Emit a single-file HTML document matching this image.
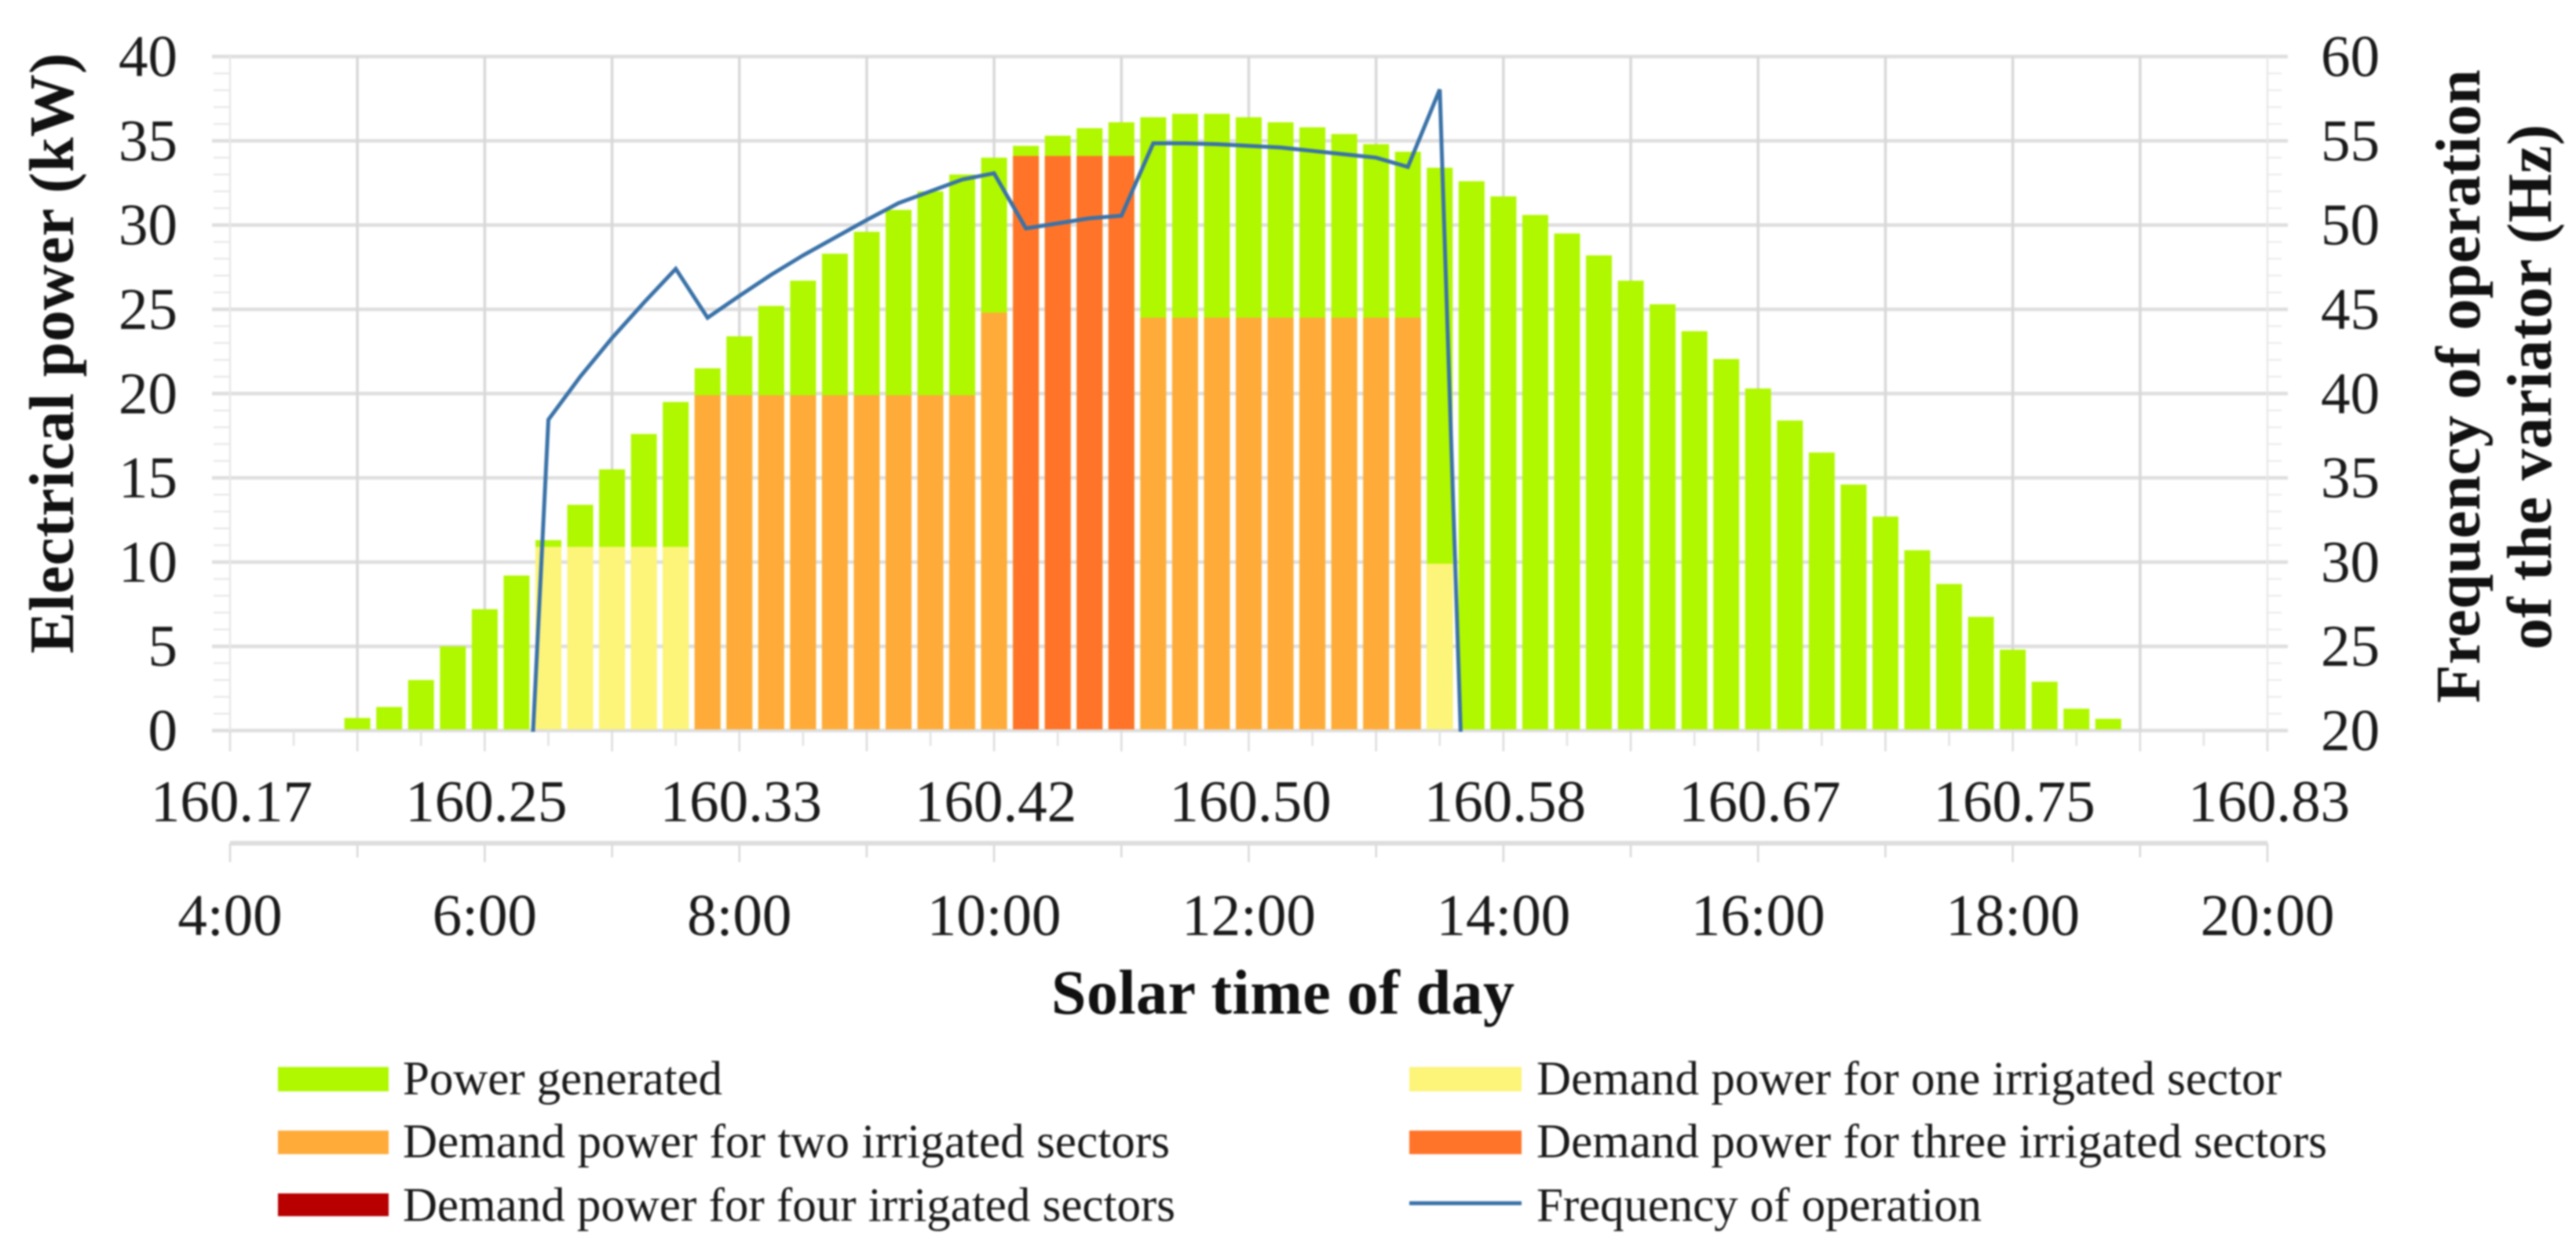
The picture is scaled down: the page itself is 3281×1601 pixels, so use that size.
<!DOCTYPE html>
<html lang="en">
<head>
<meta charset="utf-8">
<title>Electrical power and variator frequency by solar time</title>
<style>
  html, body { margin: 0; padding: 0; background: #ffffff; width: 3281px; height: 1601px; overflow: hidden; }
  svg { display: block; filter: blur(1px); }
  text { font-family: "Liberation Serif", "Times New Roman", serif; fill: #1a1a1a; }
  .bold { font-weight: bold; fill: #111111; }
</style>
</head>
<body>
<svg id="chart" xmlns="http://www.w3.org/2000/svg" width="3281" height="1601" viewBox="0 0 3281 1601">
  <defs>
    <clipPath id="plot-clip"><rect x="270" y="60" width="2640" height="872"></rect></clipPath>
  </defs>
  <rect x="0" y="0" width="3281" height="1601" fill="#ffffff"></rect>
  <g id="grid"></g>
  <g id="bars"></g>
  <g id="line" clip-path="url(#plot-clip)"></g>
  <g id="axes"></g>

  <text class="bold" font-size="80" text-anchor="middle" textLength="765" transform="translate(93,450) rotate(-90)">Electrical power (kW)</text>
  <text class="bold" font-size="80" text-anchor="middle" textLength="807" transform="translate(3158,492) rotate(-90)">Frequency of operation</text>
  <text class="bold" font-size="80" text-anchor="middle" textLength="669" transform="translate(3249,493) rotate(-90)">of the variator (Hz)</text>
  <text class="bold" font-size="80" text-anchor="middle" textLength="590" x="1634" y="1291">Solar time of day</text>

  <g id="legend">
    <g>
      <rect x="354" y="1359" width="141" height="31" fill="#b0f800"></rect>
      <text x="513" y="1394" font-size="61" textLength="407">Power generated</text>
    </g>
    <g>
      <rect x="354" y="1440" width="141" height="30" fill="#ffab3a"></rect>
      <text x="513" y="1474" font-size="61" textLength="977">Demand power for two irrigated sectors</text>
    </g>
    <g>
      <rect x="354" y="1520" width="141" height="29" fill="#b80000"></rect>
      <text x="513" y="1555" font-size="61" textLength="984">Demand power for four irrigated sectors</text>
    </g>
    <g>
      <rect x="1795" y="1359" width="143" height="31" fill="#fdf47a"></rect>
      <text x="1957" y="1394" font-size="61" textLength="949">Demand power for one irrigated sector</text>
    </g>
    <g>
      <rect x="1795" y="1440" width="143" height="30" fill="#ff7428"></rect>
      <text x="1957" y="1474" font-size="61" textLength="1007">Demand power for three irrigated sectors</text>
    </g>
    <g>
      <line x1="1795" y1="1532.5" x2="1938" y2="1532.5" stroke="#3a72a8" stroke-width="5"></line>
      <text x="1957" y="1555" font-size="61" textLength="567">Frequency of operation</text>
    </g>
  </g>
</svg>
<script>
// ---- chart data ----
const times = [
  5,5.25,5.5,5.75,6,6.25,6.5,6.75,7,7.25,7.5,7.75,8,8.25,8.5,8.75,
  9,9.25,9.5,9.75,10,10.25,10.5,10.75,11,11.25,11.5,11.75,12,12.25,12.5,12.75,
  13,13.25,13.5,13.75,14,14.25,14.5,14.75,15,15.25,15.5,15.75,16,16.25,16.5,16.75,
  17,17.25,17.5,17.75,18,18.25,18.5,18.75
];
const powerGenerated = [
  0.75,1.4,3.0,5.0,7.2,9.2,11.3,13.4,15.5,17.6,19.5,21.5,23.4,25.2,26.7,28.3,
  29.6,30.9,32.0,33.0,34.0,34.7,35.3,35.75,36.1,36.4,36.6,36.6,36.4,36.1,35.8,35.4,
  34.8,34.35,33.4,32.6,31.7,30.6,29.5,28.2,26.7,25.3,23.7,22.05,20.3,18.4,16.5,14.6,
  12.7,10.7,8.7,6.75,4.8,2.9,1.3,0.7
];
const demandOneSector = [
  0,0,0,0,0,0,10.9,10.9,10.9,10.9,10.9,0,0,0,0,0,
  0,0,0,0,0,0,0,0,0,0,0,0,0,0,0,0,
  0,0,9.9,0,0,0,0,0,0,0,0,0,0,0,0,0,
  0,0,0,0,0,0,0,0
];
const demandTwoSectors = [
  0,0,0,0,0,0,0,0,0,0,0,19.9,19.9,19.9,19.9,19.9,
  19.9,19.9,19.9,19.9,24.8,0,0,0,0,24.5,24.5,24.5,24.5,24.5,24.5,24.5,
  24.5,24.5,0,0,0,0,0,0,0,0,0,0,0,0,0,0,
  0,0,0,0,0,0,0,0
];
const demandThreeSectors = [
  0,0,0,0,0,0,0,0,0,0,0,0,0,0,0,0,
  0,0,0,0,0,34.1,34.1,34.1,34.1,0,0,0,0,0,0,0,
  0,0,0,0,0,0,0,0,0,0,0,0,0,0,0,0,
  0,0,0,0,0,0,0,0
];
const demandFourSectors = [
  0,0,0,0,0,0,0,0,0,0,0,0,0,0,0,0,
  0,0,0,0,0,0,0,0,0,0,0,0,0,0,0,0,
  0,0,0,0,0,0,0,0,0,0,0,0,0,0,0,0,
  0,0,0,0,0,0,0,0
];
const frequency = [
  null,null,null,null,null,0,38.45,41.0,43.3,45.4,47.4,44.5,45.8,47.05,48.2,49.25,
  50.3,51.3,52.0,52.7,53.07,49.8,50.1,50.4,50.55,54.85,54.85,54.8,54.7,54.6,54.4,54.2,
  54.0,53.45,58.05,0,null,null,null,null,null,null,null,null,null,null,null,null,
  null,null,null,null,null,null,null,null
];
const powerTicks = [0,5,10,15,20,25,30,35,40];
const frequencyTicks = [20,25,30,35,40,45,50,55,60];
const dayFractionHours = [4,6,8,10,12,14,16,18,20];
const dayFractionLabels = ["160.17","160.25","160.33","160.42","160.50","160.58","160.67","160.75","160.83"];
const clockLabels = ["4:00","6:00","8:00","10:00","12:00","14:00","16:00","18:00","20:00"];

// ---- axis functions ----
const NS = "http://www.w3.org/2000/svg";
const X0 = 293, X1 = 2888, Y0 = 930.5, Y1 = 72;
const xScale = h => X0 + (h - 4) * (X1 - X0) / 16;
const yPower = v => Y0 - v * (Y0 - Y1) / 40;
const yFreq = v => Y0 - (v - 20) * (Y0 - Y1) / 40;
const BAR_W = 33;

function make(parent, tag, props) {
  const el = document.createElementNS(NS, tag);
  for (const k in props) el.setAttribute(k, props[k]);
  parent.appendChild(el);
  return el;
}

const grid = document.getElementById("grid");
const axes = document.getElementById("axes");
const bars = document.getElementById("bars");
const lineG = document.getElementById("line");

// minor ticks on both value axes, every 1 kW
for (let v = 0; v <= 40; v++) {
  if (v % 5 === 0) continue;
  const left = make(grid, "line", {x1: 272, x2: X0, y1: yPower(v), y2: yPower(v), stroke: "#e6e6e6", "stroke-width": 2});
  
  
  const right = make(grid, "line", {x1: X1, x2: 2906, y1: yPower(v), y2: yPower(v), stroke: "#ebebeb", "stroke-width": 2});
  
  
}

// horizontal gridlines
powerTicks.forEach(v => {
  const l = make(grid, "line", {x1: 270, x2: 2914, y1: yPower(v), y2: yPower(v), stroke: "#dedede", "stroke-width": 4.5});
  
  
});

// vertical gridlines and ticks
for (let h = 4; h <= 20; h++) {
  const isEdge = h === 4 || h === 20;
  const v = make(grid, "line", {x1: xScale(h), x2: xScale(h), y1: Y1, y2: Y0, stroke: isEdge ? "#e8e8e8" : "#d8d8d8", "stroke-width": isEdge ? 2.5 : 3.5});
  
  
  const t = make(grid, "line", {x1: xScale(h), x2: xScale(h), y1: Y0, y2: 957, stroke: "#dcdcdc", "stroke-width": 2.5});
  
  
  const t2 = make(grid, "line", {x1: xScale(h), x2: xScale(h), y1: 1074, y2: h % 2 === 0 ? 1098 : 1092, stroke: "#d8d8d8", "stroke-width": 2.5});
  
  
  if (h < 20) {
    const m = make(grid, "line", {x1: xScale(h + 0.5), x2: xScale(h + 0.5), y1: Y0, y2: 950, stroke: "#e2e2e2", "stroke-width": 2.5});
    
    
  }
}

// lower x axis line
const lowerAxis = make(grid, "line", {x1: X0, x2: X1, y1: 1074, y2: 1074, stroke: "#dddddd", "stroke-width": 6});



// bars
function drawBars(values, color, name) {
  values.forEach((val, i) => {
    if (!val) return;
    const r = make(bars, "rect", {x: xScale(times[i]) - BAR_W / 2, y: yPower(val), width: BAR_W, height: Y0 - 1.5 - yPower(val), fill: color});
    
    
  });
}
drawBars(powerGenerated, "#b0f800", "bar-power-generated");
drawBars(demandThreeSectors, "#ff7428", "bar-demand-three-sectors");
drawBars(demandFourSectors, "#b80000", "bar-demand-four-sectors");
drawBars(demandTwoSectors, "#ffab3a", "bar-demand-two-sectors");
drawBars(demandOneSector, "#fdf47a", "bar-demand-one-sector");

// frequency line
let pts = [];
frequency.forEach((val, i) => {
  if (val === null) return;
  pts.push(xScale(times[i]).toFixed(1) + "," + yFreq(val).toFixed(1));
});
const freqLine = make(lineG, "polyline", {points: pts.join(" "), fill: "none", stroke: "#3a72a8", "stroke-width": 5, "stroke-linejoin": "miter"});



// value-axis labels
powerTicks.forEach(v => {
  const t = make(axes, "text", {x: 226, y: yPower(v) + 25, "font-size": 75, "text-anchor": "end"});
  t.textContent = v;
  
  
});
frequencyTicks.forEach(v => {
  const t = make(axes, "text", {x: 2956, y: yFreq(v) + 25, "font-size": 75});
  t.textContent = v;
  
  
});

// x-axis labels
dayFractionHours.forEach((h, i) => {
  const a = make(axes, "text", {x: xScale(h) + 2, y: 1046, "font-size": 75, "text-anchor": "middle"});
  a.textContent = dayFractionLabels[i];
  
  
  const b = make(axes, "text", {x: xScale(h), y: 1191, "font-size": 75, "text-anchor": "middle"});
  b.textContent = clockLabels[i];
  
  
});
</script>
</body>
</html>
